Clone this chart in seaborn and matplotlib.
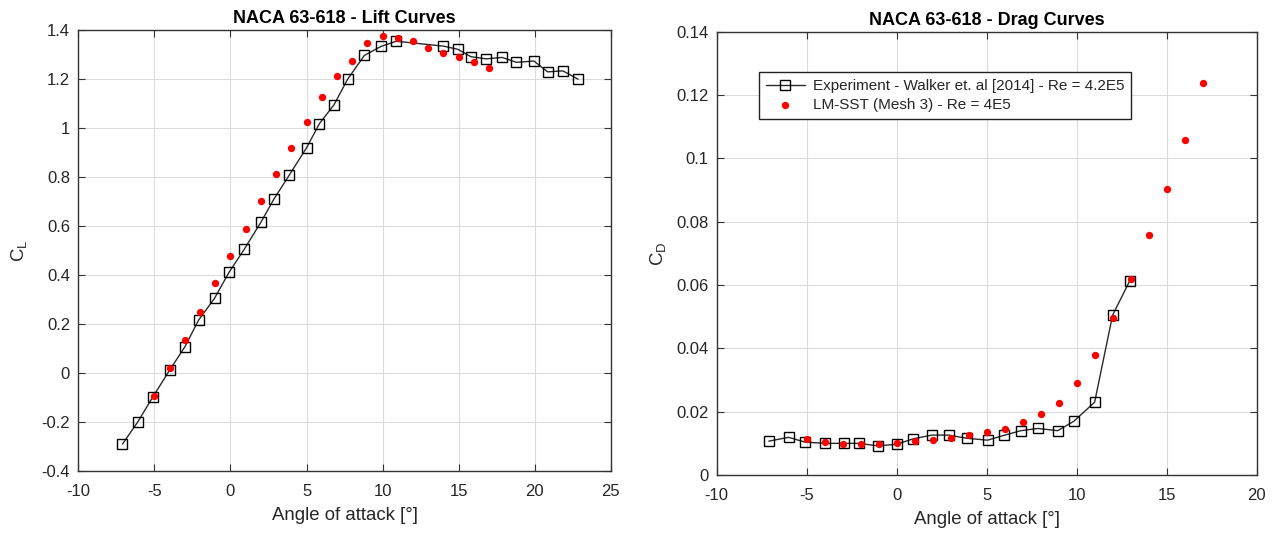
import matplotlib
matplotlib.use("Agg")
import matplotlib.pyplot as plt
import seaborn as sns

# lift data
lift_exp_aoa = [-7.1, -6.1, -5.1, -4.0, -3.0, -2.1, -1.05, -0.1, 0.9, 2.0, 2.85, 3.85, 5.0, 5.85,
                6.8, 7.7, 8.8, 9.9, 10.9, 14.0, 14.95, 15.8, 16.8, 17.85, 18.8, 19.95, 20.85, 21.85, 22.85]
lift_exp_cl = [-0.29, -0.20, -0.097, 0.012, 0.107, 0.216, 0.305, 0.411, 0.505, 0.616, 0.710, 0.807, 0.920,
               1.019, 1.095, 1.200, 1.297, 1.334, 1.355, 1.335, 1.322, 1.292, 1.283, 1.289, 1.269, 1.274,
               1.230, 1.234, 1.200]
cfd_aoa = list(range(-5, 18))
lift_cfd_cl = [-0.094, 0.019, 0.135, 0.250, 0.366, 0.478, 0.590, 0.703, 0.812, 0.920, 1.027, 1.129,
               1.213, 1.276, 1.348, 1.375, 1.370, 1.355, 1.329, 1.307, 1.291, 1.272, 1.246]

# drag data
drag_exp_aoa = [-7.1, -6.0, -5.1, -4.0, -2.95, -2.1, -1.05, 0.0, 0.9, 1.95, 2.9, 3.9, 5.05, 5.95,
                6.9, 7.85, 8.95, 9.85, 11.0, 12.0, 12.95]
drag_exp_cd = [0.0107, 0.0119, 0.0104, 0.0100, 0.0100, 0.0100, 0.0092, 0.0097, 0.0114, 0.0126, 0.0126,
               0.0116, 0.0110, 0.0125, 0.0140, 0.0147, 0.0140, 0.0170, 0.0230, 0.0505, 0.0613]
drag_cfd_cd = [0.0114, 0.0104, 0.0099, 0.0099, 0.0099, 0.0102, 0.0107, 0.0112, 0.0118, 0.0127, 0.0135,
               0.0145, 0.0166, 0.0192, 0.0228, 0.0290, 0.0378, 0.0495, 0.0619, 0.0759, 0.0902, 0.1058,
               0.1237]

lift_xticks = [-10, -5, 0, 5, 10, 15, 20, 25]
lift_yticks = [-0.4, -0.2, 0, 0.2, 0.4, 0.6, 0.8, 1, 1.2, 1.4]
lift_yticklabels = ['-0.4', '-0.2', '0', '0.2', '0.4', '0.6', '0.8', '1', '1.2', '1.4']
drag_xticks = [-10, -5, 0, 5, 10, 15, 20]
drag_yticks = [0, 0.02, 0.04, 0.06, 0.08, 0.1, 0.12, 0.14]
drag_yticklabels = ['0', '0.02', '0.04', '0.06', '0.08', '0.1', '0.12', '0.14']

exp_label = 'Experiment - Walker et. al [2014] - Re = 4.2E5'
cfd_label = 'LM-SST (Mesh 3) - Re = 4E5'

sns.set_theme(style="whitegrid")
plt.rcParams['font.family'] = ['Liberation Sans', 'DejaVu Sans']
plt.rcParams['mathtext.default'] = 'regular'
plt.rcParams['axes.unicode_minus'] = False

txt = '#262626'

fig = plt.figure(figsize=(12.72, 5.33), dpi=100)
ax1 = fig.add_axes([0.0616, 0.1163, 0.4186, 0.827])
ax2 = fig.add_axes([0.5634, 0.1088, 0.4245, 0.8317])


def draw(ax, ex, ey, cx, cy):
    sns.lineplot(x=ex, y=ey, ax=ax, color='#2a2a2a', lw=1.0, marker='s', markersize=6.5,
                 markerfacecolor='none', markeredgecolor='black', markeredgewidth=1.0,
                 label=exp_label, sort=False)
    sns.scatterplot(x=cx, y=cy, ax=ax, color='red', s=28, linewidth=0, label=cfd_label, zorder=3)


def style(ax, xticks, yticks, yticklabels, title, ylabel, ylabelpad):
    ax.set_facecolor('white')
    ax.set_xticks(xticks)
    ax.set_xticklabels([str(t) for t in xticks])
    ax.set_yticks(yticks)
    ax.set_yticklabels(yticklabels)
    ax.set_xlim(xticks[0], xticks[-1])
    ax.set_ylim(yticks[0], yticks[-1])
    ax.grid(True, color='#dcdcdc', lw=0.8)
    for s in ax.spines.values():
        s.set_visible(True)
        s.set_color('#333333')
        s.set_linewidth(1.0)
    ax.tick_params(direction='in', length=5, width=0.8, color='#333333', labelsize=12,
                   labelcolor=txt, top=True, right=True, bottom=True, left=True)
    ax.tick_params(axis='x', pad=9)
    ax.tick_params(axis='y', pad=6)
    ax.set_title(title, fontsize=13, fontweight='bold', color='black', pad=5)
    ax.set_xlabel('Angle of attack [°]', fontsize=13.4, color=txt, labelpad=6)
    ax.set_ylabel(ylabel, fontsize=13.4, color=txt, labelpad=ylabelpad)


draw(ax1, lift_exp_aoa, lift_exp_cl, cfd_aoa, lift_cfd_cl)
style(ax1, lift_xticks, lift_yticks, lift_yticklabels, 'NACA 63-618 - Lift Curves', 'C$_L$', 9)
ax1.get_legend().remove()

draw(ax2, drag_exp_aoa, drag_exp_cd, cfd_aoa, drag_cfd_cd)
style(ax2, drag_xticks, drag_yticks, drag_yticklabels, 'NACA 63-618 - Drag Curves', 'C$_D$', 6)
leg = ax2.legend(loc='upper left', bbox_to_anchor=(0.078, 0.908), borderaxespad=0, fontsize=11,
                 fancybox=False, framealpha=1, edgecolor='#222222', handlelength=2.6,
                 borderpad=0.45, labelspacing=0.32, handletextpad=0.5)
leg.get_frame().set_linewidth(1.0)
for t in leg.get_texts():
    t.set_color(txt)

fig.savefig('out.png', dpi=100)
